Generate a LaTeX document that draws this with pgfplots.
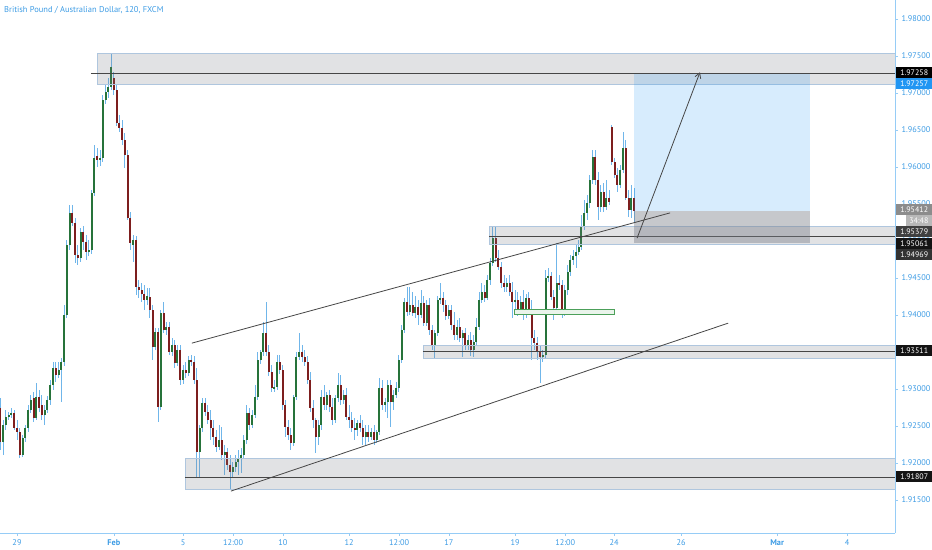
\documentclass[border=0pt]{standalone}
\usepackage{fontspec}
\setmainfont{PT Sans}
\usepackage{pgfplots}
\pgfplotsset{compat=1.18}
\usepackage{pgfplotstable}
\usetikzlibrary{arrows.meta}

\definecolor{tvblue}{RGB}{60,155,228}
\definecolor{axisblue}{RGB}{150,204,246}
\definecolor{upcol}{RGB}{38,115,58}
\definecolor{downcol}{RGB}{125,30,30}
\definecolor{wickcol}{RGB}{112,182,234}
\definecolor{zonefill}{RGB}{120,123,134}
\definecolor{zoneedge}{RGB}{175,198,222}
\definecolor{linecol}{RGB}{70,70,70}
\definecolor{targetcol}{RGB}{33,150,243}
\definecolor{greenbox}{RGB}{76,160,90}

% GBPAUD 2h candles, i = bar number (12 bars a day)
\pgfplotstableread{
i o h l c
0 1.9274 1.9288 1.9218 1.9228
1 1.9228 1.9258 1.9211 1.9251
2 1.9251 1.9272 1.9245 1.9262
3 1.9262 1.9269 1.9258 1.9265
4 1.9265 1.9274 1.9261 1.9268
5 1.9268 1.9272 1.9245 1.9247
6 1.9247 1.9258 1.9231 1.9242
7 1.9242 1.9247 1.9207 1.9211
8 1.9211 1.9238 1.9208 1.9234
9 1.9234 1.9251 1.9228 1.9247
10 1.9247 1.9278 1.9242 1.9272
11 1.9272 1.9292 1.9268 1.9285
12 1.9288 1.9296 1.9255 1.9261
13 1.9261 1.9308 1.9258 1.9289
14 1.9289 1.9299 1.9269 1.9274
15 1.9278 1.9292 1.9258 1.9265
16 1.9265 1.9278 1.9251 1.9272
17 1.9272 1.9291 1.9268 1.9285
18 1.9285 1.9312 1.9278 1.9305
19 1.9305 1.9337 1.9299 1.9328
20 1.9328 1.9337 1.9310 1.9319
21 1.9319 1.9337 1.9315 1.9326
22 1.9326 1.9342 1.9282 1.9337
23 1.9337 1.9414 1.9331 1.9400
24 1.9400 1.9501 1.9396 1.9495
25 1.9495 1.9549 1.9488 1.9538
26 1.9538 1.9549 1.9520 1.9524
27 1.9524 1.9531 1.9470 1.9481
28 1.9481 1.9495 1.9468 1.9477
29 1.9477 1.9518 1.9472 1.9512
30 1.9512 1.9520 1.9488 1.9499
31 1.9499 1.9508 1.9474 1.9485
32 1.9485 1.9501 1.9480 1.9488
33 1.9488 1.9569 1.9483 1.9565
34 1.9565 1.9630 1.9561 1.9612
35 1.9615 1.9626 1.9600 1.9610
36 1.9610 1.9623 1.9601 1.9612
37 1.9612 1.9697 1.9607 1.9691
38 1.9691 1.9711 1.9685 1.9701
39 1.9701 1.9720 1.9693 1.9708
40 1.9708 1.9754 1.9704 1.9735
41 1.9720 1.9728 1.9697 1.9704
42 1.9704 1.9711 1.9655 1.9659
43 1.9659 1.9670 1.9647 1.9653
44 1.9653 1.9664 1.9630 1.9637
45 1.9637 1.9646 1.9599 1.9616
46 1.9616 1.9623 1.9528 1.9531
47 1.9531 1.9539 1.9488 1.9497
48 1.9495 1.9508 1.9472 1.9501
49 1.9501 1.9507 1.9427 1.9438
50 1.9438 1.9447 1.9423 1.9434
51 1.9434 1.9443 1.9418 1.9428
52 1.9428 1.9441 1.9407 1.9420
53 1.9420 1.9437 1.9414 1.9426
54 1.9424 1.9437 1.9396 1.9407
55 1.9407 1.9414 1.9339 1.9357
56 1.9357 1.9383 1.9353 1.9377
57 1.9377 1.9383 1.9255 1.9276
58 1.9276 1.9407 1.9272 1.9403
59 1.9403 1.9418 1.9376 1.9380
60 1.9380 1.9391 1.9373 1.9384
61 1.9384 1.9391 1.9346 1.9350
62 1.9350 1.9369 1.9345 1.9359
63 1.9359 1.9366 1.9328 1.9335
64 1.9335 1.9359 1.9331 1.9353
65 1.9353 1.9359 1.9305 1.9312
66 1.9312 1.9332 1.9307 1.9326
67 1.9326 1.9337 1.9315 1.9322
68 1.9322 1.9345 1.9318 1.9339
69 1.9339 1.9346 1.9331 1.9337
70 1.9337 1.9345 1.9307 1.9312
71 1.9312 1.9328 1.9180 1.9215
72 1.9215 1.9251 1.9180 1.9247
73 1.9247 1.9288 1.9242 1.9281
74 1.9281 1.9288 1.9264 1.9269
75 1.9269 1.9278 1.9253 1.9258
76 1.9258 1.9272 1.9231 1.9247
77 1.9247 1.9258 1.9224 1.9235
78 1.9235 1.9245 1.9215 1.9222
79 1.9222 1.9251 1.9218 1.9231
80 1.9231 1.9249 1.9204 1.9211
81 1.9211 1.9224 1.9184 1.9215
82 1.9215 1.9220 1.9191 1.9197
83 1.9197 1.9211 1.9164 1.9188
84 1.9188 1.9201 1.9180 1.9195
85 1.9195 1.9211 1.9188 1.9201
86 1.9201 1.9218 1.9184 1.9207
87 1.9207 1.9220 1.9186 1.9211
88 1.9211 1.9238 1.9207 1.9231
89 1.9231 1.9278 1.9226 1.9268
90 1.9268 1.9274 1.9245 1.9251
91 1.9251 1.9272 1.9247 1.9265
92 1.9265 1.9305 1.9261 1.9289
93 1.9289 1.9350 1.9285 1.9339
94 1.9339 1.9353 1.9334 1.9350
95 1.9350 1.9391 1.9345 1.9376
96 1.9376 1.9418 1.9345 1.9350
97 1.9350 1.9359 1.9318 1.9323
98 1.9323 1.9332 1.9296 1.9301
99 1.9301 1.9312 1.9296 1.9303
100 1.9303 1.9346 1.9299 1.9337
101 1.9337 1.9346 1.9320 1.9326
102 1.9326 1.9332 1.9272 1.9278
103 1.9278 1.9285 1.9235 1.9249
104 1.9249 1.9258 1.9231 1.9238
105 1.9238 1.9247 1.9218 1.9227
106 1.9227 1.9292 1.9223 1.9289
107 1.9289 1.9350 1.9285 1.9343
108 1.9343 1.9376 1.9339 1.9350
109 1.9350 1.9359 1.9337 1.9343
110 1.9343 1.9353 1.9331 1.9337
111 1.9337 1.9345 1.9307 1.9312
112 1.9312 1.9323 1.9269 1.9274
113 1.9274 1.9285 1.9247 1.9258
114 1.9258 1.9261 1.9214 1.9235
115 1.9235 1.9258 1.9224 1.9251
116 1.9251 1.9299 1.9245 1.9289
117 1.9289 1.9305 1.9272 1.9278
118 1.9278 1.9296 1.9272 1.9292
119 1.9292 1.9299 1.9269 1.9276
120 1.9276 1.9288 1.9251 1.9258
121 1.9258 1.9292 1.9254 1.9288
122 1.9288 1.9322 1.9282 1.9305
123 1.9305 1.9319 1.9278 1.9285
124 1.9285 1.9299 1.9280 1.9292
125 1.9292 1.9301 1.9258 1.9262
126 1.9262 1.9278 1.9247 1.9258
127 1.9258 1.9269 1.9242 1.9247
128 1.9247 1.9261 1.9231 1.9245
129 1.9245 1.9258 1.9237 1.9254
130 1.9254 1.9265 1.9242 1.9247
131 1.9247 1.9258 1.9224 1.9235
132 1.9235 1.9251 1.9224 1.9242
133 1.9242 1.9251 1.9228 1.9235
134 1.9235 1.9247 1.9231 1.9242
135 1.9242 1.9251 1.9224 1.9231
136 1.9231 1.9245 1.9227 1.9242
137 1.9242 1.9315 1.9238 1.9301
138 1.9301 1.9312 1.9272 1.9278
139 1.9278 1.9288 1.9269 1.9282
140 1.9282 1.9312 1.9261 1.9305
141 1.9305 1.9312 1.9249 1.9282
142 1.9282 1.9299 1.9272 1.9292
143 1.9292 1.9310 1.9288 1.9301
144 1.9301 1.9346 1.9296 1.9339
145 1.9339 1.9387 1.9335 1.9380
146 1.9380 1.9423 1.9376 1.9418
147 1.9418 1.9438 1.9399 1.9404
148 1.9404 1.9438 1.9400 1.9414
149 1.9414 1.9431 1.9399 1.9403
150 1.9403 1.9426 1.9396 1.9411
151 1.9411 1.9420 1.9387 1.9400
152 1.9400 1.9434 1.9396 1.9416
153 1.9416 1.9426 1.9385 1.9389
154 1.9389 1.9420 1.9385 1.9414
155 1.9414 1.9423 1.9373 1.9380
156 1.9380 1.9387 1.9353 1.9359
157 1.9359 1.9380 1.9342 1.9376
158 1.9376 1.9426 1.9372 1.9420
159 1.9420 1.9443 1.9415 1.9423
160 1.9423 1.9431 1.9404 1.9414
161 1.9414 1.9420 1.9393 1.9399
162 1.9399 1.9414 1.9395 1.9407
163 1.9407 1.9414 1.9380 1.9386
164 1.9386 1.9404 1.9366 1.9373
165 1.9373 1.9393 1.9366 1.9384
166 1.9384 1.9396 1.9364 1.9369
167 1.9369 1.9380 1.9343 1.9376
168 1.9376 1.9383 1.9353 1.9359
169 1.9359 1.9373 1.9353 1.9366
170 1.9366 1.9377 1.9345 1.9353
171 1.9353 1.9373 1.9343 1.9364
172 1.9364 1.9396 1.9359 1.9384
173 1.9384 1.9431 1.9380 1.9420
174 1.9420 1.9443 1.9416 1.9431
175 1.9431 1.9441 1.9418 1.9423
176 1.9423 1.9454 1.9420 1.9447
177 1.9447 1.9477 1.9441 1.9470
178 1.9470 1.9520 1.9466 1.9504
179 1.9504 1.9520 1.9472 1.9477
180 1.9477 1.9488 1.9461 1.9465
181 1.9465 1.9472 1.9437 1.9443
182 1.9443 1.9454 1.9431 1.9438
183 1.9438 1.9450 1.9431 1.9443
184 1.9443 1.9454 1.9426 1.9431
185 1.9431 1.9445 1.9396 1.9418
186 1.9418 1.9434 1.9407 1.9420
187 1.9420 1.9431 1.9399 1.9407
188 1.9407 1.9426 1.9403 1.9418
189 1.9418 1.9434 1.9393 1.9407
190 1.9407 1.9428 1.9396 1.9423
191 1.9423 1.9431 1.9400 1.9407
192 1.9407 1.9420 1.9339 1.9369
193 1.9369 1.9380 1.9353 1.9362
194 1.9362 1.9370 1.9339 1.9350
195 1.9350 1.9359 1.9308 1.9343
196 1.9343 1.9353 1.9337 1.9346
197 1.9346 1.9461 1.9342 1.9450
198 1.9450 1.9464 1.9445 1.9453
199 1.9453 1.9458 1.9420 1.9424
200 1.9424 1.9434 1.9393 1.9410
201 1.9410 1.9497 1.9404 1.9443
202 1.9443 1.9454 1.9434 1.9441
203 1.9441 1.9447 1.9396 1.9403
204 1.9403 1.9441 1.9399 1.9434
205 1.9434 1.9468 1.9427 1.9458
206 1.9458 1.9481 1.9453 1.9474
207 1.9474 1.9488 1.9468 1.9480
208 1.9480 1.9495 1.9464 1.9485
209 1.9485 1.9501 1.9481 1.9492
210 1.9492 1.9535 1.9488 1.9519
211 1.9519 1.9555 1.9515 1.9538
212 1.9538 1.9562 1.9528 1.9551
213 1.9551 1.9589 1.9545 1.9583
214 1.9583 1.9623 1.9577 1.9614
215 1.9614 1.9623 1.9576 1.9583
216 1.9583 1.9593 1.9528 1.9546
217 1.9546 1.9576 1.9539 1.9566
218 1.9566 1.9578 1.9539 1.9546
219 1.9546 1.9583 1.9542 1.9558
220 1.9558 1.9569 1.9549 1.9553
221 1.9654 1.9657 1.9603 1.9607
222 1.9607 1.9612 1.9585 1.9589
223 1.9589 1.9599 1.9566 1.9576
224 1.9576 1.9603 1.9572 1.9596
225 1.9596 1.9647 1.9592 1.9626
226 1.9626 1.9637 1.9555 1.9558
227 1.9558 1.9569 1.9532 1.9542
228 1.9542 1.9576 1.9531 1.9558
229 1.9558 1.9572 1.9525 1.9541
}\candles

\newcommand{\plabel}[3]{%
  \node[fill=#2, text=white, font=\fontsize{8}{9}\selectfont, anchor=west,
        minimum width=36bp, minimum height=11bp, inner sep=0pt] at (896bp,#1) {#3};}

\pgfplotsset{candle/.style={only marks, mark=none, mark size=0pt,
  mark options={draw=none, fill=none}, forget plot,
  error bars/.cd, y dir=both, y explicit, error mark=none}}

\begin{document}
\begin{tikzpicture}
\begin{axis}[
  at={(0bp,17bp)}, anchor=south west,
  width=895bp, height=533bp, scale only axis,
  xmin=-0.145, xmax=323.3,
  ymin=1.91054, ymax=1.98257,
  axis x line*=bottom, axis y line*=right,
  axis line style={axisblue, line width=1bp},
  tick align=outside, major tick length=3bp,
  tick style={axisblue, line width=0.6bp},
  scaled y ticks=false,
  ytick={1.915,1.92,1.925,1.93,1.935,1.94,1.945,1.95,1.955,1.96,1.965,1.97,1.975,1.98},
  yticklabel style={font=\fontsize{8.3}{9}\selectfont, text=tvblue,
    /pgf/number format/.cd, fixed, fixed zerofill, precision=5, assume math mode=true},
  xtick={6,41,66,84.1,102.1,126,144.1,162.1,186,204.1,221.8,246,280.7,306},
  xticklabels={29,\textbf{Feb},5,12:00,10,12,12:00,17,19,12:00,24,26,\textbf{Mar},4},
  xticklabel style={font=\fontsize{8.3}{9}\selectfont, text=tvblue},
]

% wicks
\addplot[candle, error bar style={wickcol, line width=0.9bp}]
  table[x=i, y expr={(\thisrow{h}+\thisrow{l})/2},
        y error expr={(\thisrow{h}-\thisrow{l})/2}] {\candles};

% up bodies
\addplot[candle, error bar style={upcol, line width=2bp}]
  table[x expr={\thisrow{c}>=\thisrow{o} ? \thisrow{i} : nan},
        y expr={(\thisrow{o}+\thisrow{c})/2},
        y error expr={abs(\thisrow{c}-\thisrow{o})/2}] {\candles};

% down bodies
\addplot[candle, error bar style={downcol, line width=2bp}]
  table[x expr={\thisrow{c}<\thisrow{o} ? \thisrow{i} : nan},
        y expr={(\thisrow{o}+\thisrow{c})/2},
        y error expr={abs(\thisrow{c}-\thisrow{o})/2}] {\candles};

% support / resistance zones
\filldraw[fill=zonefill, fill opacity=0.22, draw=zoneedge, line width=0.8bp]
  (axis cs:34.9,1.9711) rectangle (axis cs:323.3,1.9754);
\draw[linecol, line width=1bp] (axis cs:32.7,1.97258) -- (axis cs:323.3,1.97258);

\filldraw[fill=zonefill, fill opacity=0.22, draw=zoneedge, line width=0.8bp]
  (axis cs:176.6,1.9495) rectangle (axis cs:323.3,1.9520);
\draw[linecol, line width=1bp] (axis cs:176.6,1.95061) -- (axis cs:323.3,1.95061);

\filldraw[fill=zonefill, fill opacity=0.22, draw=zoneedge, line width=0.8bp]
  (axis cs:152.7,1.9342) rectangle (axis cs:323.3,1.9359);
\draw[linecol, line width=1bp] (axis cs:152.7,1.93511) -- (axis cs:323.3,1.93511);

\filldraw[fill=zonefill, fill opacity=0.22, draw=zoneedge, line width=0.8bp]
  (axis cs:66.7,1.9164) rectangle (axis cs:323.3,1.9206);
\draw[linecol, line width=1bp] (axis cs:66.7,1.91807) -- (axis cs:323.3,1.91807);

\filldraw[fill=greenbox!12, draw=greenbox, line width=0.8bp]
  (axis cs:185.6,1.9401) rectangle (axis cs:221.8,1.9407);

% long position tool
\fill[targetcol, fill opacity=0.18] (axis cs:229,1.95412) rectangle (axis cs:292.6,1.97257);
\fill[zonefill, fill opacity=0.42] (axis cs:229,1.94969) rectangle (axis cs:292.6,1.95412);

% channel
\draw[linecol, line width=0.8bp] (axis cs:69.2,1.9362) -- (axis cs:242.0,1.9538);
\draw[linecol, line width=0.8bp] (axis cs:83.3,1.9162) -- (axis cs:263.0,1.9389);

\draw[linecol, line width=0.8bp, -{Straight Barb[length=5bp,width=6bp]}]
  (axis cs:230.1,1.9504) -- (axis cs:252.8,1.9728);
\end{axis}

\node[anchor=base west, font=\fontsize{8.5}{10}\selectfont, text=tvblue, inner sep=0pt]
  at (4bp,537.5bp) {British Pound / Australian Dollar, 120, FXCM};

\plabel{477bp}{black}{1.97258}
\plabel{466bp}{targetcol}{1.97257}
\plabel{340bp}{black!45}{1.95412}
\node[fill=black!28, text=white, font=\fontsize{8}{9}\selectfont, anchor=east,
      minimum width=26bp, minimum height=11bp, inner sep=0pt] at (932bp,329bp) {34:48};
\plabel{318bp}{black!75}{1.95379}
\plabel{306bp}{black!92}{1.95061}
\plabel{295bp}{black!80}{1.94969}
\plabel{199bp}{black!92}{1.93511}
\plabel{73bp}{black!92}{1.91807}

\pgfresetboundingbox
\path (0bp,0bp) rectangle (932bp,550bp);
\end{tikzpicture}
\end{document}
